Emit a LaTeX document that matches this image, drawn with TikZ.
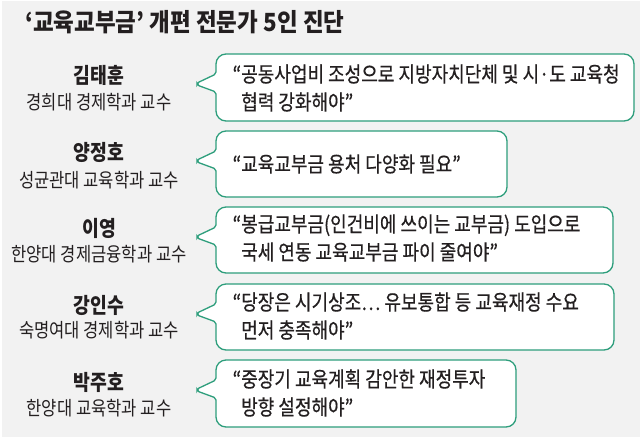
\documentclass[tikz,border=0pt]{standalone}
\usepackage{fontspec}
\usepackage{xcolor}
\setmainfont{Noto Sans CJK KR}[FakeStretch=0.85]
\newfontfamily\headfont{Noto Sans CJK KR}[FakeStretch=0.9]
\newfontfamily\quotefont{Noto Sans CJK KR}[FakeStretch=0.85, FakeBold=0.5]
\definecolor{papergray}{HTML}{F2F2F2}
\definecolor{rimgreen}{HTML}{2E9E7C}
\definecolor{inkblack}{HTML}{231F20}
\newcommand{\PAPER}[0]{papergray}
\newcommand{\RIM}[0]{rimgreen}
\newcommand{\INK}[0]{inkblack}

\begin{document}
\begin{tikzpicture}[x=1pt, y=-1pt,
    who/.style={color=\INK, inner sep=0pt, font=\fontsize{21.5}{23}\selectfont\bfseries},
    job/.style={color=\INK, inner sep=0pt, font=\fontsize{19.5}{21}\selectfont},
    says/.style={color=\INK, inner sep=0pt, anchor=west, align=left,
      font=\quotefont\fontsize{21.2}{28}\selectfont},
    bubble/.style={draw=\RIM, line width=1.3pt, fill=white}]

  \newcommand\BX{216}  %% left side of the bubbles
  \newcommand\TX{197}  %% tip of the tails
  \newcommand\WX{99}   %% middle of the name column

  %% #1 top, #2 bottom, #3 right side
  \newcommand\bubble[3]{
    \draw[bubble] (\BX, #1+20) [rounded corners=10pt] -- (\BX, #1) -- (#3, #1)
      -- (#3, #2) -- (\BX, #2) [rounded corners=2pt] -- (\BX, #1+38)
      -- (\TX, #1+31) -- (\TX, #1+29) -- cycle;
  }

  \useasboundingbox (0, 0) rectangle (640, 440);
  \fill[\PAPER] (2, 1) rectangle (640, 437);

  \node[color=\INK, inner sep=0pt, anchor=west,
    font=\headfont\fontsize{25}{27}\selectfont\bfseries]
    (title) at (25, 22) {‘교육교부금’ 개편 전문가 5인 진단};

  \bubble{54}{121}{634}
  \bubble{131}{197}{507}
  \bubble{207}{273}{613}
  \bubble{284}{350}{614}
  \bubble{360}{427}{516}

  \node[who] (kim) at (\WX, 75) {김태훈};
  \node[job] (kimjob) at (\WX, 102) {경희대 경제학과 교수};
  \node[says] (kimsays) at (241, 88)
    {\llap{“}공동사업비 조성으로 지방자치단체 및 시·도 교육청\\협력 강화해야”};

  \node[who] (yang) at (\WX, 152) {양정호};
  \node[job] (yangjob) at (\WX, 180) {성균관대 교육학과 교수};
  \node[says] (yangsays) at (241, 164) {\llap{“}교육교부금 용처 다양화 필요”};

  \node[who] (lee) at (\WX, 228) {이영};
  \node[job] (leejob) at (\WX, 254) {한양대 경제금융학과 교수};
  \node[says] (leesays) at (241, 238)
    {\llap{“}봉급교부금(인건비에 쓰이는 교부금) 도입으로\\국세 연동 교육교부금 파이 줄여야”};

  \node[who] (kang) at (\WX, 305) {강인수};
  \node[job] (kangjob) at (\WX, 330) {숙명여대 경제학과 교수};
  \node[says] (kangsays) at (241, 316)
    {\llap{“}당장은 시기상조… 유보통합 등 교육재정 수요\\먼저 충족해야”};

  \node[who] (park) at (\WX, 382) {박주호};
  \node[job] (parkjob) at (\WX, 408) {한양대 교육학과 교수};
  \node[says] (parksays) at (241, 393)
    {\llap{“}중장기 교육계획 감안한 재정투자\\방향 설정해야”};

\end{tikzpicture}
\end{document}
